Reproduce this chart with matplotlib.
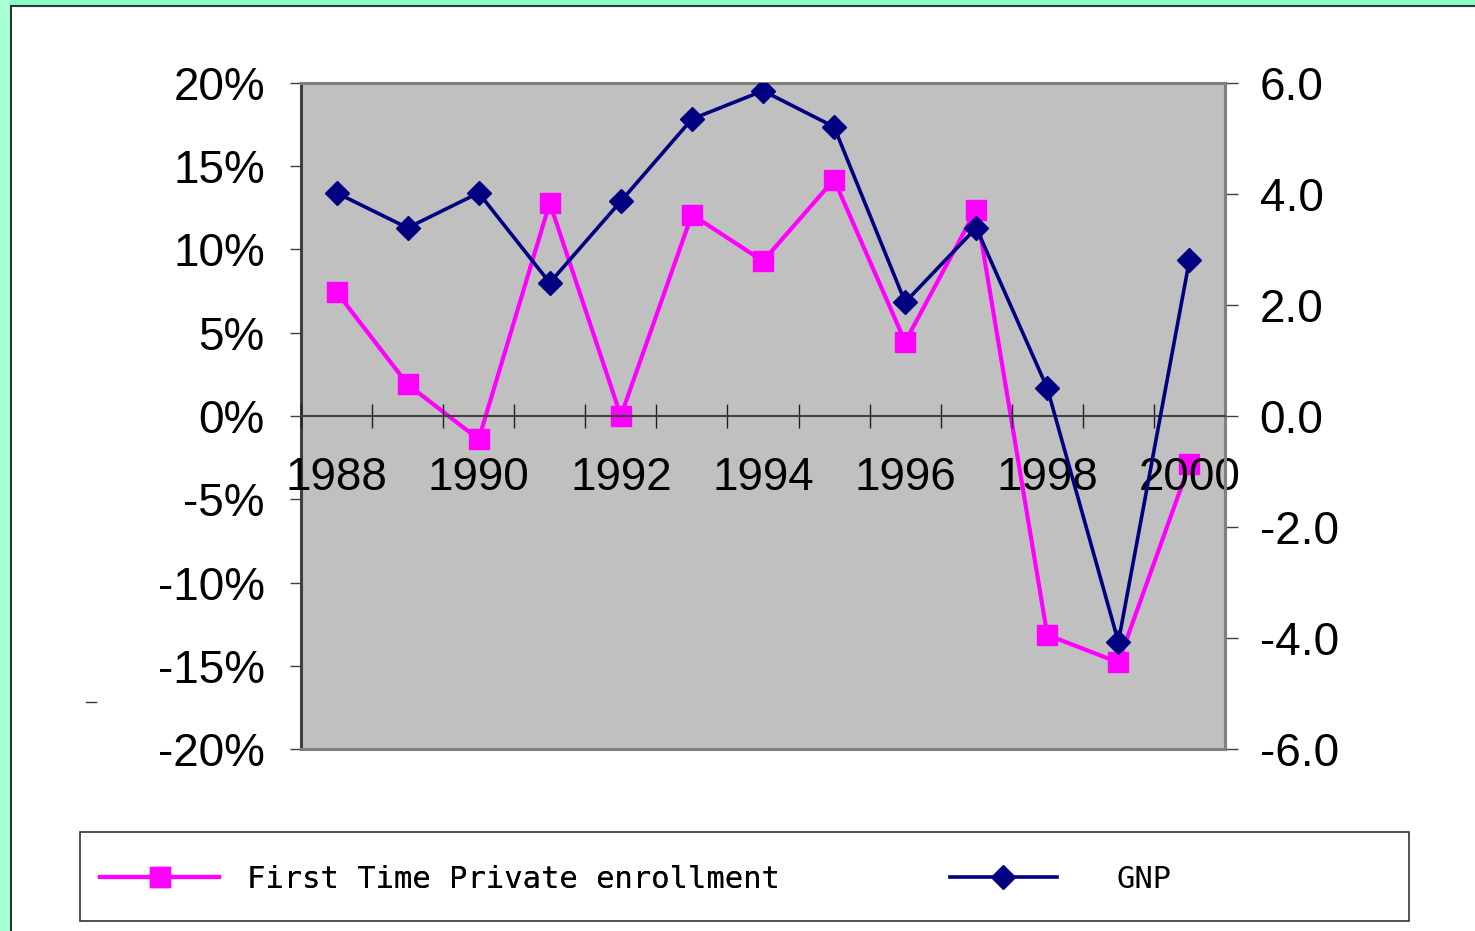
import numpy as np
import matplotlib.pyplot as plt
from matplotlib.patches import Rectangle
from matplotlib.lines import Line2D
from matplotlib.ticker import FuncFormatter, FixedLocator

years = ["1988", "1989", "1990", "1991", "1992", "1993", "1994",
         "1995", "1996", "1997", "1998", "1999", "2000"]
enrollment = [7.45, 1.9, -1.4, 12.8, 0.0, 12.1, 9.3, 14.2, 4.45, 12.4, -13.15, -14.8, -2.9]
gnp = [4.02, 3.39, 4.02, 2.40, 3.87, 5.35, 5.86, 5.21, 2.05, 3.39, 0.50, -4.07, 2.81]
pct_ticks = [-20, -15, -10, -5, 0, 5, 10, 15, 20]
gnp_ticks = [-6, -4, -2, 0, 2, 4, 6]

PINK = "#FF00FF"
NAVY = "#000080"
W, H = 1475, 931

plt.rcParams["font.family"] = ["Liberation Sans", "DejaVu Sans"]

fig = plt.figure(figsize=(W / 100, H / 100), dpi=100)
fig.patch.set_facecolor("white")

# green slide border (top + left) with dark edge line
fig.add_artist(Rectangle((0, 1 - 5 / H), 1, 5 / H, transform=fig.transFigure,
                         facecolor="#86FFC4", edgecolor="none"))
fig.add_artist(Rectangle((0, 0), 10 / W, 1, transform=fig.transFigure,
                         facecolor="#A8FFD4", edgecolor="none"))
fig.add_artist(Line2D([10.5 / W, 10.5 / W], [0, 1 - 5.5 / H], transform=fig.transFigure,
                      color="#333333", lw=1.5))
fig.add_artist(Line2D([10.5 / W, 1], [1 - 5.5 / H, 1 - 5.5 / H], transform=fig.transFigure,
                      color="#333333", lw=1.5))
fig.add_artist(Line2D([86 / W, 96 / W], [(H - 702) / H, (H - 702) / H],
                      transform=fig.transFigure, color="#333333", lw=1))

x = np.arange(len(years))
ax = fig.add_axes([301 / W, (H - 749) / H, 924 / W, 666 / H])
ax.set_facecolor("#C0C0C0")
ax.set_xlim(-0.5, len(years) - 0.5)
ax.set_ylim(-20, 20)
ax.set_yticks(pct_ticks)
ax.yaxis.set_major_formatter(FuncFormatter(lambda v, p: f"{v:.0f}%"))
ax.tick_params(axis="y", direction="out", length=8, width=1, color="#404040",
               labelsize=33, pad=18)
ax.xaxis.set_visible(False)
for s in ["top", "right", "bottom"]:
    ax.spines[s].set_color("#808080")
    ax.spines[s].set_linewidth(2.2)
ax.spines["left"].set_color("#404040")
ax.spines["left"].set_linewidth(2.2)
ax.plot(x, enrollment, color=PINK, lw=3, marker="s", markersize=15,
        markerfacecolor=PINK, markeredgecolor=PINK, zorder=3)

ax2 = ax.twinx()
ax2.set_ylim(-6, 6)
ax2.set_yticks(gnp_ticks)
ax2.yaxis.set_major_formatter(FuncFormatter(lambda v, p: f"{v:.1f}"))
ax2.tick_params(axis="y", direction="out", length=9, width=1, color="#404040",
                labelsize=33, pad=16)
ax2.plot(x, gnp, color=NAVY, lw=2.6, marker="D", markersize=12,
         markerfacecolor=NAVY, markeredgecolor=NAVY, zorder=3)

# category axis drawn at zero, on top of both series
ax2.xaxis.set_visible(True)
ax2.spines["bottom"].set_position(("data", 0))
ax2.spines["bottom"].set_color("#404040")
ax2.spines["bottom"].set_linewidth(1.5)
ax2.spines["top"].set_visible(False)
ax2.spines["left"].set_visible(False)
ax2.spines["right"].set_color("#808080")
ax2.spines["right"].set_linewidth(2.2)
ax2.xaxis.set_major_locator(FixedLocator(np.arange(-0.5, len(years), 1.0)))
ax2.xaxis.set_major_formatter(FuncFormatter(lambda v, p: ""))
ax2.xaxis.set_minor_locator(FixedLocator(x[::2]))
ax2.set_xticklabels(years[::2], minor=True)
ax2.tick_params(axis="x", which="major", direction="inout", length=17, width=1,
                color="#202020")
ax2.tick_params(axis="x", which="minor", length=0, labelsize=33, pad=29)
ax2.set_xlim(-0.5, len(years) - 0.5)

# legend box
fig.add_artist(Rectangle((80 / W, (H - 921) / H), 1329 / W, 89 / H,
                         transform=fig.transFigure, facecolor="white",
                         edgecolor="#333333", lw=1.2))
leg_font = {"family": "DejaVu Sans Mono", "size": 22}
leg1 = fig.legend([Line2D([], [], color=PINK, lw=3, marker="s", markersize=15)],
                  ["First Time Private enrollment"], loc="center left",
                  bbox_to_anchor=(100 / W, (H - 879) / H), frameon=False,
                  borderpad=0, borderaxespad=0, handlelength=3.9,
                  handletextpad=0.9, prop=leg_font)
fig.legend([Line2D([], [], color=NAVY, lw=2.6, marker="D", markersize=12)],
           ["GNP"], loc="center left",
           bbox_to_anchor=(950 / W, (H - 879) / H), frameon=False,
           borderpad=0, borderaxespad=0, handlelength=3.5,
           handletextpad=1.95, prop=leg_font)
fig.add_artist(leg1)

fig.savefig("out.png", dpi=100)
